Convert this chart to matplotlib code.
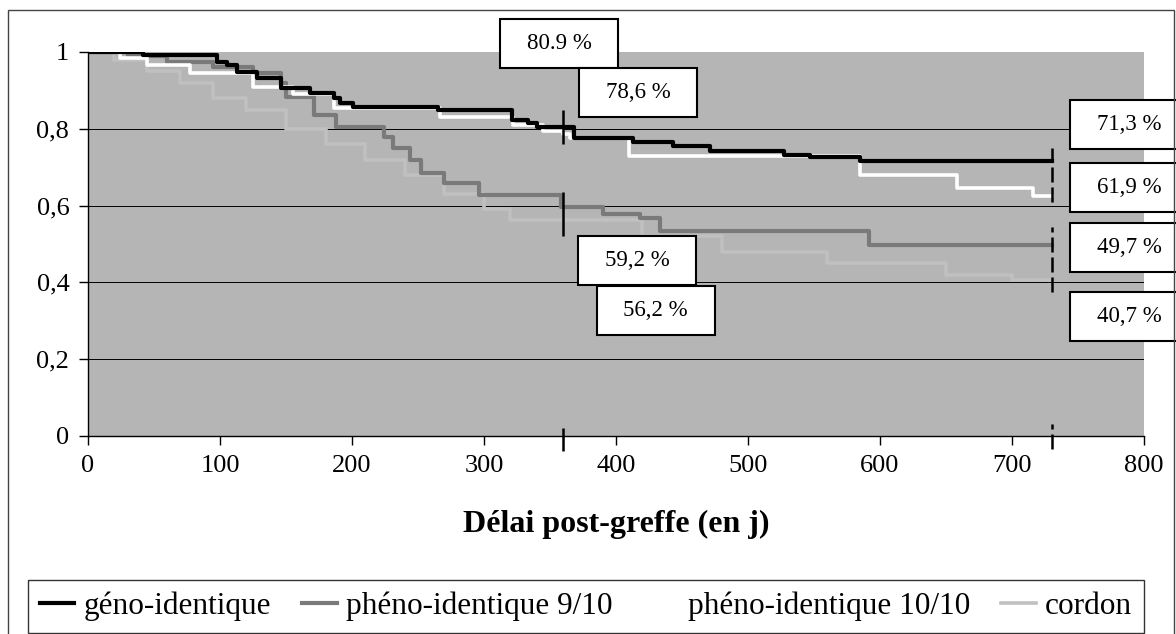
import matplotlib.pyplot as plt
from matplotlib.patches import Rectangle

plt.rcParams['font.family'] = ['Liberation Serif', 'DejaVu Serif']

# courbes de survie (jours post-greffe, probabilité)
geno_t = [0, 42, 98, 105, 113, 128, 146, 168, 186, 191, 201, 265, 321, 333, 340, 368, 413, 443, 471, 527, 547, 585, 730]
geno_s = [1.0, 0.993, 0.975, 0.966, 0.948, 0.932, 0.906, 0.893, 0.88, 0.867, 0.857, 0.849, 0.823, 0.815, 0.805, 0.777, 0.766, 0.755, 0.742, 0.732, 0.727, 0.716, 0.716]

pheno9_t = [0, 30, 60, 95, 125, 146, 150, 171, 188, 224, 231, 244, 252, 270, 296, 358, 390, 418, 433, 592, 730]
pheno9_s = [1.0, 0.99, 0.975, 0.96, 0.945, 0.92, 0.883, 0.836, 0.805, 0.779, 0.749, 0.719, 0.684, 0.658, 0.628, 0.596, 0.578, 0.567, 0.535, 0.497, 0.497]

pheno10_t = [0, 24, 45, 77, 125, 155, 186, 267, 322, 345, 360, 365, 410, 585, 658, 716, 730]
pheno10_s = [1.0, 0.985, 0.965, 0.945, 0.91, 0.89, 0.855, 0.83, 0.81, 0.795, 0.786, 0.776, 0.73, 0.68, 0.646, 0.625, 0.625]

cordon_t = [0, 20, 45, 70, 95, 120, 150, 180, 210, 240, 270, 300, 320, 420, 480, 560, 650, 700, 730]
cordon_s = [1.0, 0.98, 0.95, 0.92, 0.88, 0.85, 0.80, 0.76, 0.72, 0.68, 0.63, 0.59, 0.562, 0.52, 0.48, 0.45, 0.42, 0.407, 0.407]

# étiquettes à 1 an et 2 ans
labels_txt = ['80.9 %', '78,6 %', '59,2 %', '56,2 %', '71,3 %', '61,9 %', '49,7 %', '40,7 %']
labels_x = [357, 417, 416, 430, 789, 789, 789, 789]
labels_y = [1.022, 0.895, 0.456, 0.328, 0.8125, 0.647, 0.49, 0.31]

# repères verticaux à 1 an / 2 ans
mark_x = [360, 360, 360, 730, 730, 730]
mark_y0 = [0.76, 0.52, -0.04, 0.61, 0.375, -0.035]
mark_y1 = [0.85, 0.635, 0.02, 0.75, 0.545, 0.03]

W, H = 1176, 634
fig = plt.figure(figsize=(W / 100, H / 100), dpi=100)
ax = fig.add_axes([88 / W, 1 - 436 / H, 1056 / W, 384 / H])
ax.set_facecolor('#b5b5b5')

for y in [0.2, 0.4, 0.6, 0.8]:
    ax.axhline(y, color='black', lw=0.7, zorder=1)

ax.step(cordon_t, cordon_s, where='post', color='#c0c0c0', lw=2.6, zorder=2, label='cordon')
ax.step(pheno9_t, pheno9_s, where='post', color='#7a7a7a', lw=3, zorder=3, label='phéno-identique 9/10')
ax.step(pheno10_t, pheno10_s, where='post', color='white', lw=2.6, zorder=3.5, label='phéno-identique 10/10')
ax.step(geno_t, geno_s, where='post', color='black', lw=3, zorder=4, label='géno-identique')

for i in range(len(mark_x)):
    ls = '-' if mark_x[i] < 500 else (0, (6, 2))
    ax.vlines(mark_x[i], mark_y0[i], mark_y1[i], color='black', lw=1.8,
              linestyles=[ls], clip_on=False, zorder=5)

bw, bh = 118 / 1.32, 49 / 384
for txt, x, y in zip(labels_txt, labels_x, labels_y):
    ax.add_patch(Rectangle((x - bw / 2, y - bh / 2), bw, bh, facecolor='white',
                           edgecolor='black', lw=1.5, clip_on=False, zorder=6))
    ax.text(x, y, txt, ha='center', va='center', fontsize=16.5, zorder=7, clip_on=False)

ax.set_xlim(0, 800)
ax.set_ylim(0, 1)
ax.set_xticks(range(0, 801, 100))
ax.set_yticks([0, 0.2, 0.4, 0.6, 0.8, 1])
ax.set_yticklabels(['0', '0,2', '0,4', '0,6', '0,8', '1'])
ax.tick_params(direction='out', length=6.5, width=1, labelsize=19, pad=7)
for s in ['top', 'right']:
    ax.spines[s].set_visible(False)
for s in ['left', 'bottom']:
    ax.spines[s].set_color('black')
    ax.spines[s].set_linewidth(1)

ax.set_xlabel('Délai post-greffe (en j)', fontsize=23, fontweight='bold', labelpad=24)

h, l = ax.get_legend_handles_labels()
order = [3, 1, 2, 0]
leg = fig.legend([h[i] for i in order], [l[i] for i in order], ncol=4,
                 loc='center', bbox_to_anchor=(586 / W, 1 - 606.5 / H),
                 fontsize=22.5, frameon=True, fancybox=False, edgecolor='black',
                 handlelength=1.1, handletextpad=0.3, columnspacing=1.0,
                 borderpad=0.38)
leg.get_frame().set_linewidth(1)

# cadre extérieur du graphique
fig.add_artist(Rectangle((8 / W, -0.05), 1166 / W, 1.05 - 10 / H, transform=fig.transFigure,
                         fill=False, edgecolor='#444444', lw=1))

fig.savefig('out.png', dpi=100)
